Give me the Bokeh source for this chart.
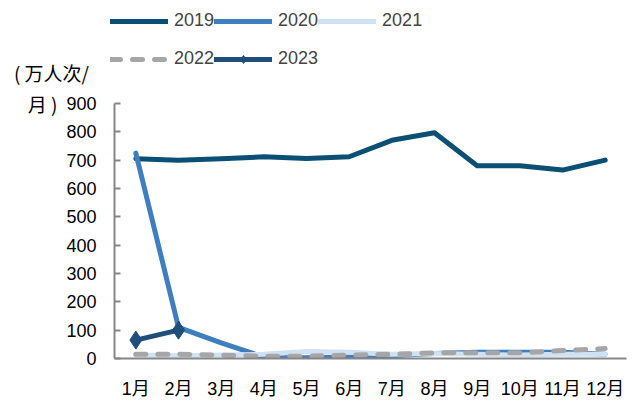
from bokeh.plotting import figure
from bokeh.layouts import column, row
from bokeh.models import Legend, LegendItem, Label, FixedTicker, FactorRange, Range1d
from bokeh.embed import file_html
from bokeh.resources import INLINE

months = ["1月", "2月", "3月", "4月", "5月", "6月", "7月", "8月", "9月", "10月", "11月", "12月"]
v2019 = [705, 700, 705, 712, 706, 712, 770, 797, 680, 680, 665, 700]
v2020 = [725, 110, 55, 5, 3, 5, 10, 18, 22, 22, 22, 15]
v2021 = [12, 10, 12, 15, 25, 22, 15, 18, 15, 12, 15, 15]
v2022 = [15, 15, 12, 8, 8, 12, 15, 20, 20, 20, 28, 35]
months2023 = ["1月", "2月"]
v2023 = [65, 100]
yticks = [0, 100, 200, 300, 400, 500, 600, 700, 800, 900]
y_max = 900
unit_line1 = "( 万人次/"
unit_line2 = "月 )"

FONT = "Liberation Sans"
CJK = "Noto Sans CJK SC"
MIX = "Liberation Sans, Noto Sans CJK SC"

C19, C20, C21, C22, C23 = "#0B4F74", "#3F7FBF", "#CFE2F3", "#A6A6A6", "#1F4E7A"

# layout constants (pixels)
TOP_H = 90          # legend strip height
LEFT_W = 57         # unit strip width
MAIN_H = 313
FRAME_H = 268       # frame height of the main chart (top border 0, bottom border 45)
PX_900 = 255        # pixels from 0 to 900


def strip(w, h, yr):
    fig = figure(width=w, height=h, x_range=Range1d(0, w), y_range=Range1d(yr, 0),
                 output_backend="svg", toolbar_location=None, title=None,
                 x_axis_location=None, y_axis_location=None, min_border=0,
                 min_border_left=0, min_border_right=0, min_border_top=0, min_border_bottom=0)
    fig.outline_line_color = None
    fig.grid.grid_line_color = None
    fig.background_fill_color = "white"
    fig.border_fill_color = "white"
    return fig


# ---------- main chart ----------
p = figure(width=639 - LEFT_W, height=MAIN_H, x_range=FactorRange(*months, range_padding=0),
           y_range=Range1d(0, y_max * FRAME_H / PX_900), output_backend="svg",
           toolbar_location=None, title=None,
           min_border_left=57, min_border_right=13, min_border_top=0, min_border_bottom=45)
p.outline_line_color = None
p.grid.grid_line_color = None
p.background_fill_color = "white"
p.border_fill_color = "white"

p.yaxis.ticker = FixedTicker(ticks=yticks)
p.yaxis.bounds = (0, y_max)
p.yaxis.axis_line_color = "#868686"
p.yaxis.axis_line_width = 2
p.yaxis.major_tick_line_color = "#868686"
p.yaxis.major_tick_line_width = 2
p.yaxis.major_tick_in = 6
p.yaxis.major_tick_out = 0
p.yaxis.minor_tick_line_color = None
p.yaxis.major_label_standoff = 18
p.yaxis.major_label_text_font = FONT
p.yaxis.major_label_text_font_size = "18px"
p.yaxis.major_label_text_color = "black"

p.xaxis.axis_line_color = "#868686"
p.xaxis.axis_line_width = 2
p.xaxis.major_tick_line_color = None
p.xaxis.major_label_standoff = 14
p.xaxis.major_label_text_font = MIX
p.xaxis.major_label_text_font_size = "18px"
p.xaxis.major_label_text_color = "black"

p.line(months, v2019, line_color=C19, line_width=5, line_cap="round", line_join="round")
p.line(months, v2020, line_color=C20, line_width=5, line_cap="round", line_join="round")
p.line(months, v2021, line_color=C21, line_width=5, line_cap="round", line_join="round")
p.line(months, v2022, line_color=C22, line_width=5, line_dash="10 12", line_cap="round", line_join="round")
p.line(months2023, v2023, line_color=C23, line_width=5, line_cap="round", line_join="round")
p.scatter(months2023, v2023, marker="diamond", size=18, fill_color=C23, line_color=C23)

# ---------- top strip: legend + unit label ----------
top = strip(639, TOP_H, TOP_H)
idx = list(range(len(months)))
idx23 = list(range(len(months2023)))
# hidden proxies (same series) that only feed the legend swatches
l19 = top.line(idx, v2019, line_color=C19, line_width=5, line_cap="round", visible=False)
l20 = top.line(idx, v2020, line_color=C20, line_width=5, line_cap="round", visible=False)
l21 = top.line(idx, v2021, line_color=C21, line_width=5, line_cap="round", visible=False)
l22 = top.line(idx, v2022, line_color=C22, line_width=5, line_dash="10 12", line_cap="round", visible=False)
l23 = top.line(idx23, v2023, line_color=C23, line_width=5, line_cap="round", visible=False)
m23 = top.scatter(idx23, v2023, marker="diamond", size=9, fill_color=C23, line_color=C23, visible=False)

leg_kw = dict(orientation="horizontal", border_line_color=None, background_fill_alpha=0,
              glyph_width=58, glyph_height=20, label_height=20, label_width=40,
              label_text_font=FONT, label_text_font_size="18px", label_standoff=6,
              spacing=0, padding=0, margin=0, inactive_fill_alpha=0)
leg1 = Legend(items=[LegendItem(label="2019", renderers=[l19]),
                     LegendItem(label="2020", renderers=[l20]),
                     LegendItem(label="2021", renderers=[l21])],
              location=(110, 59), **leg_kw)
leg2 = Legend(items=[LegendItem(label="2022", renderers=[l22]),
                     LegendItem(label="2023", renderers=[l23, m23])],
              location=(110, 21), **leg_kw)
top.add_layout(leg1, "center")
top.add_layout(leg2, "center")
top.add_layout(Label(x=51, y=72, text=unit_line1, text_font=CJK, text_font_size="19px",
                     text_align="center", text_baseline="middle", text_color="black"))

# ---------- left strip: second line of unit (frame aligned with main frame) ----------
left = strip(LEFT_W, MAIN_H, FRAME_H)
left.add_layout(Label(x=LEFT_W, y=MAIN_H - 45 - FRAME_H + 13, text=unit_line2, text_font=CJK,
                      text_font_size="19px", text_align="right", text_baseline="middle",
                      text_color="black"))

layout = column(top, row(left, p, spacing=0), spacing=0)
open("out.html", "w").write(file_html(layout, INLINE))
